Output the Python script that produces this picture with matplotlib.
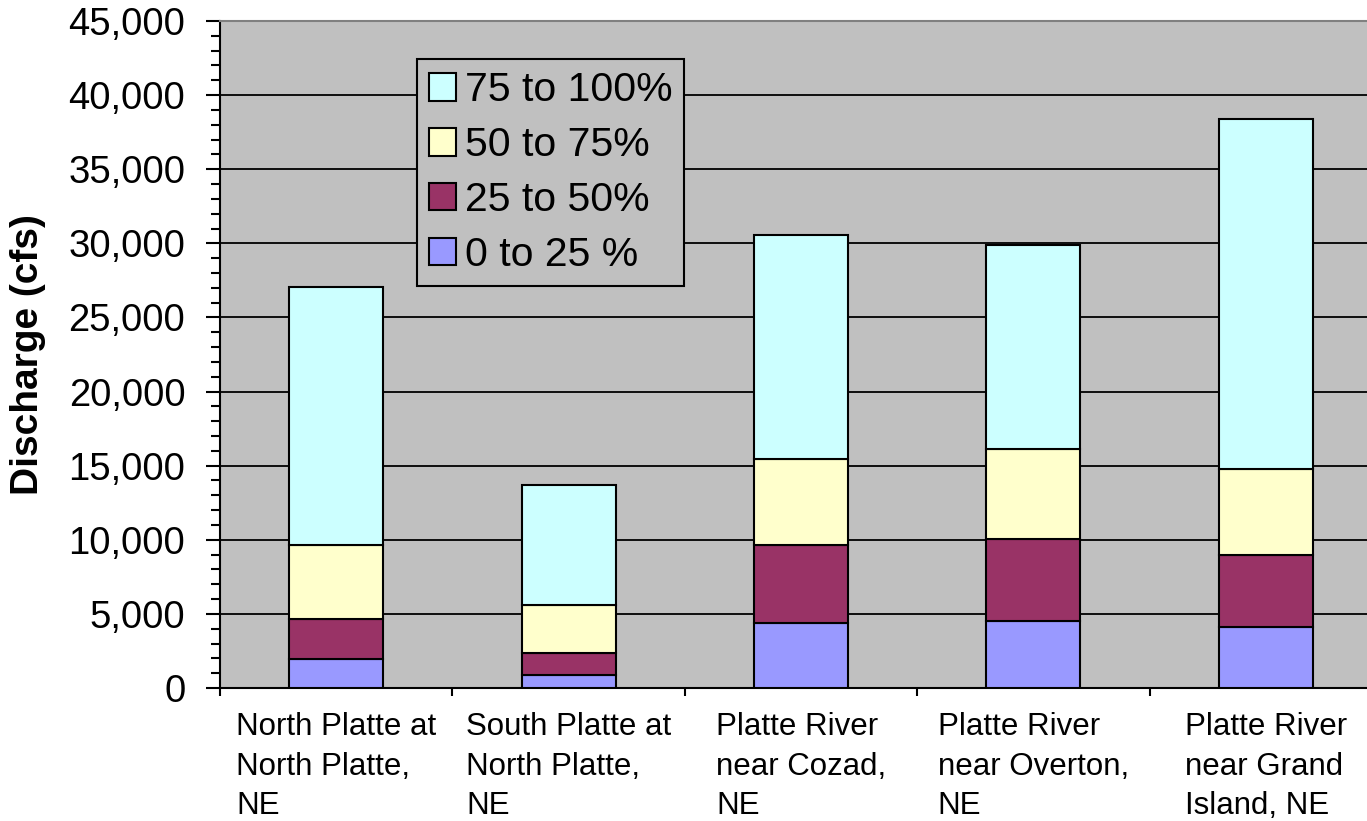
import numpy as np
import matplotlib
matplotlib.use("Agg")
import matplotlib.pyplot as plt
from matplotlib.ticker import FuncFormatter, MultipleLocator, FixedLocator

plt.rcParams['font.family'] = ['Liberation Sans', 'DejaVu Sans']

stations = [
    "North Platte at\nNorth Platte,\nNE",
    "South Platte at\nNorth Platte,\nNE",
    "Platte River\nnear Cozad,\nNE",
    "Platte River\nnear Overton,\nNE",
    "Platte River\nnear Grand\nIsland, NE",
]

# Discharge contributed by each percentile band (cfs), stacked bottom to top
band_labels = ["0 to 25 %", "25 to 50%", "50 to 75%", "75 to 100%"]
q_0_25 = [1960, 880, 4390, 4500, 4120]
q_25_50 = [2690, 1500, 5280, 5550, 4850]
q_50_75 = [5000, 3240, 5780, 6070, 5830]
q_75_100 = [17420, 8080, 15110, 13750, 23590]
band_colors = ["#9999FF", "#993366", "#FFFFCC", "#CCFFFF"]

bands = [q_0_25, q_25_50, q_50_75, q_75_100]

W, H = 1367, 821
fig = plt.figure(figsize=(W / 100, H / 100), dpi=100)
# plot area runs slightly past the right edge of the canvas
ax = fig.add_axes([220 / W, 1 - 688 / H, 1162 / W, (688 - 21) / H])
ax.set_facecolor("#C0C0C0")

x = np.arange(len(stations))
bottom = np.zeros(len(stations))
handles = []
for vals, lab, col in zip(bands, band_labels, band_colors):
    h = ax.bar(x, vals, width=0.404, bottom=bottom, color=col,
               edgecolor="black", linewidth=1.5, label=lab, zorder=3)
    handles.append(h)
    bottom += np.array(vals)

ax.set_xlim(-0.5, len(stations) - 0.5)
ax.set_ylim(0, 45000)

# y axis
ax.yaxis.set_major_locator(MultipleLocator(5000))
ax.yaxis.set_minor_locator(MultipleLocator(1000))
ax.yaxis.set_major_formatter(FuncFormatter(lambda v, p: f"{int(v):,}"))
ax.tick_params(axis="y", which="major", length=10, width=1.5, pad=15,
               labelsize=27.5, direction="out", colors="black")
ax.tick_params(axis="y", which="minor", length=6.5, width=1.5, direction="out")
ax.grid(axis="y", which="major", color="black", linewidth=1.3, zorder=1)
ax.set_axisbelow(True)

# x axis: labels at category centres, tick marks at category boundaries
ax.set_xticks(x)
ax.set_xticklabels(stations, fontsize=22.5, linespacing=1.43, multialignment="left")
ax.xaxis.set_minor_locator(FixedLocator(np.arange(len(stations) + 1) - 0.5))
ax.tick_params(axis="x", which="major", length=0, pad=17)
ax.tick_params(axis="x", which="minor", length=6, width=1.5, direction="out")

ax.set_ylabel("Discharge (cfs)", fontsize=28, fontweight="bold")
ax.yaxis.set_label_coords(-0.1517 * 1147 / 1162, 0.5)

for side in ("left", "bottom"):
    ax.spines[side].set_color("black")
    ax.spines[side].set_linewidth(1.5)
for side in ("top", "right"):
    ax.spines[side].set_color("#808080")
    ax.spines[side].set_linewidth(1.5)

leg = ax.legend(handles[::-1], band_labels[::-1], loc="upper left",
                bbox_to_anchor=((417 - 220) / 1162, 0.943), borderaxespad=0,
                fontsize=29.5, frameon=True, fancybox=False,
                facecolor="#C0C0C0", edgecolor="black", framealpha=1,
                handlelength=0.66, handleheight=0.66, handletextpad=0.2,
                labelspacing=0.41, borderpad=0.3)
leg.get_frame().set_linewidth(1.5)
leg.set_zorder(5)

fig.savefig("out.png", dpi=100)
